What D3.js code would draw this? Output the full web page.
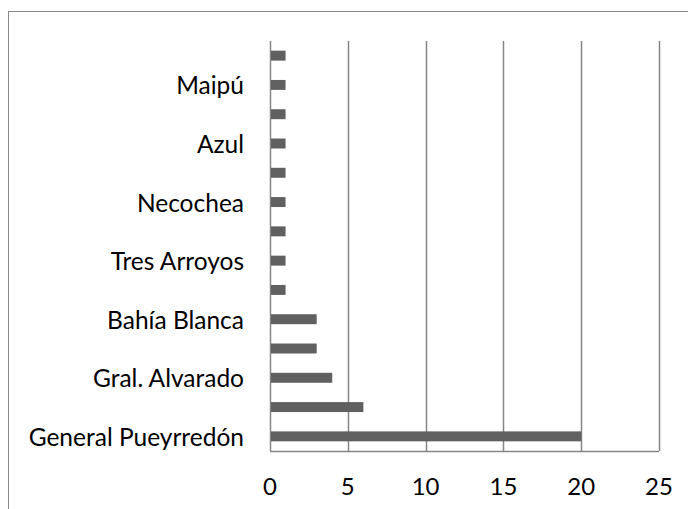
<!DOCTYPE html>
<html><head><meta charset="utf-8">
<script src="https://cdn.jsdelivr.net/npm/d3@7"></script>
<style>html,body{margin:0;padding:0;background:#fff;} svg{display:block;}</style>
</head><body>
<svg id="chart" width="688" height="509"></svg>
<script>
// Categories from top to bottom ("" = label not shown in the original)
const categories = ["", "Maipú", "", "Azul", "", "Necochea", "", "Tres Arroyos", "", "Bahía Blanca", "", "Gral. Alvarado", "", "General Pueyrredón"];
const values = [1, 1, 1, 1, 1, 1, 1, 1, 1, 3, 3, 4, 6, 20];
const xTicks = [0, 5, 10, 15, 20, 25];

const svg = d3.select("#chart");
const font = "Lato, 'Open Sans', sans-serif";

// outer frame
svg.append("rect").attr("x", 8.5).attr("y", 11.5).attr("width", 700).attr("height", 520)
  .attr("fill", "none").attr("stroke", "#8a8a8a").attr("stroke-width", 1);

const x = d3.scaleLinear().domain([0, 25]).range([270, 659]);
const idx = categories.map((d, i) => i);
const y = d3.scaleBand().domain(idx).range([41, 451]).paddingInner(0.66).paddingOuter(0.33);

// gridlines
svg.append("g").selectAll("line").data(xTicks).join("line")
  .attr("x1", d => Math.round(x(d)) + 0.5).attr("x2", d => Math.round(x(d)) + 0.5)
  .attr("y1", 41).attr("y2", 451)
  .attr("stroke", "#868686").attr("stroke-width", 1.5);

// bottom axis line
svg.append("line").attr("x1", x(0)).attr("x2", x(25)).attr("y1", 451.5).attr("y2", 451.5)
  .attr("stroke", "#868686").attr("stroke-width", 1.5);

// bars
svg.append("g").selectAll("rect").data(values).join("rect")
  .attr("x", x(0) + 1)
  .attr("y", (d, i) => y(i))
  .attr("width", d => x(d) - x(0) - 1)
  .attr("height", y.bandwidth())
  .attr("fill", "#606060");

// x tick labels
svg.append("g").selectAll("text").data(xTicks).join("text")
  .attr("x", d => x(d)).attr("y", 485)
  .attr("text-anchor", "middle").attr("dominant-baseline", "central")
  .attr("font-family", font).attr("font-size", 24).attr("fill", "#000")
  .text(d => d);

// category labels
svg.append("g").selectAll("text").data(categories).join("text")
  .attr("x", 244).attr("y", (d, i) => y(i) + y.bandwidth() / 2)
  .attr("text-anchor", "end").attr("dominant-baseline", "central")
  .attr("font-family", font).attr("font-size", 24.5).attr("fill", "#000")
  .text(d => d);
</script>
</body></html>
